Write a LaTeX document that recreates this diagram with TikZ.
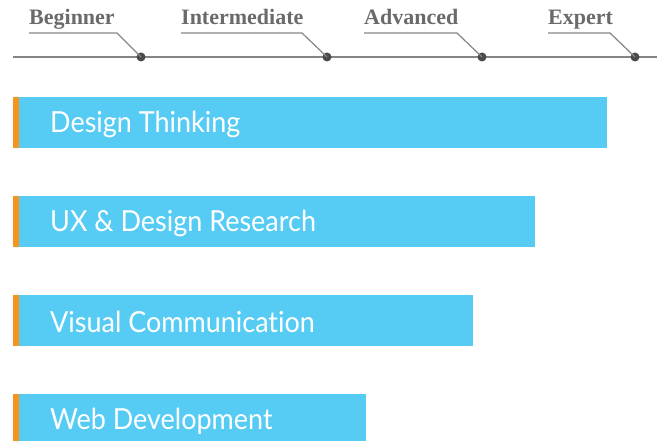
\documentclass[tikz,border=0pt]{standalone}
\usepackage{fontspec}
\usepackage{tikz}
\usetikzlibrary{positioning}
\setmainfont{Liberation Serif}
\newfontfamily\barfont[FakeStretch=0.93,Ligatures={NoCommon,NoRare,NoDiscretionary}]{Lato}
\definecolor{lvlgrey}{HTML}{6A6A6A}
\definecolor{linegrey}{HTML}{858585}
\definecolor{dotgrey}{HTML}{4A4A4A}
\definecolor{barblue}{HTML}{56CCF5}
\definecolor{barorange}{HTML}{F7941D}
\tikzset{
  level/.style={anchor=base west,inner sep=0pt,text=lvlgrey,font=\bfseries\fontsize{22}{24}\selectfont},
  dot/.style={circle,fill=dotgrey,inner sep=0pt,minimum size=9pt},
  bar/.style={anchor=north west,fill=barblue,inner sep=0pt,minimum height=51pt},
  tab/.style={anchor=north east,fill=barorange,inner sep=0pt,minimum width=6pt,minimum height=51pt},
  skill/.style={anchor=west,inner sep=0pt,text=white,font=\barfont\fontsize{29}{30}\selectfont}
}
\begin{document}
\begin{tikzpicture}[x=1pt,y=-1pt]
   \useasboundingbox (0,0) rectangle (658,441);
   % timeline
   \coordinate (t_start) at (13,57);
   \coordinate (t_end) at (657,57);
   \draw[linegrey,line width=1.3pt] (t_start) -- (t_end);
   \node[dot] (d_0) at (141,57) {};
   \node[dot] (d_1) at (327,57) {};
   \node[dot] (d_2) at (482,57) {};
   \node[dot] (d_3) at (635,57) {};
   \node[level] (l_0) at (29,25) {Beginner};
   \node[level] (l_1) at (181,25) {Intermediate};
   \node[level] (l_2) at (364,25) {Advanced};
   \node[level] (l_3) at (548,25) {Expert};
   \coordinate (u_0) at (29,33);  \coordinate (k_0) at (117,33);
   \coordinate (u_1) at (181,33); \coordinate (k_1) at (302,33);
   \coordinate (u_2) at (364,33); \coordinate (k_2) at (457,33);
   \coordinate (u_3) at (548,33); \coordinate (k_3) at (610,33);
   \draw[linegrey,line width=1.2pt]
     (u_0) -- (k_0) -- (d_0.center)
     (u_1) -- (k_1) -- (d_1.center)
     (u_2) -- (k_2) -- (d_2.center)
     (u_3) -- (k_3) -- (d_3.center);
   % skill bars
   \node[bar,minimum width=588pt] (b_0) at (19,97) {};
   \node[bar,minimum width=516pt] (b_1) at (19,196) {};
   \node[bar,minimum width=454pt] (b_2) at (19,295) {};
   \node[bar,minimum width=347pt] (b_3) at (19,394) {};
   \node[tab] (o_0) at (b_0.north west) {};
   \node[tab] (o_1) at (b_1.north west) {};
   \node[tab] (o_2) at (b_2.north west) {};
   \node[tab] (o_3) at (b_3.north west) {};
   \node[skill] (s_0) [right=31pt of b_0.west, yshift=-1.5pt] {Design Thinking};
   \node[skill] (s_1) [right=31pt of b_1.west, yshift=-1.5pt] {UX \& Design Research};
   \node[skill] (s_2) [right=31pt of b_2.west, yshift=-1.5pt] {Visual Communication};
   \node[skill] (s_3) [right=31pt of b_3.west, yshift=-1.5pt] {Web Development};
\end{tikzpicture}
\end{document}
